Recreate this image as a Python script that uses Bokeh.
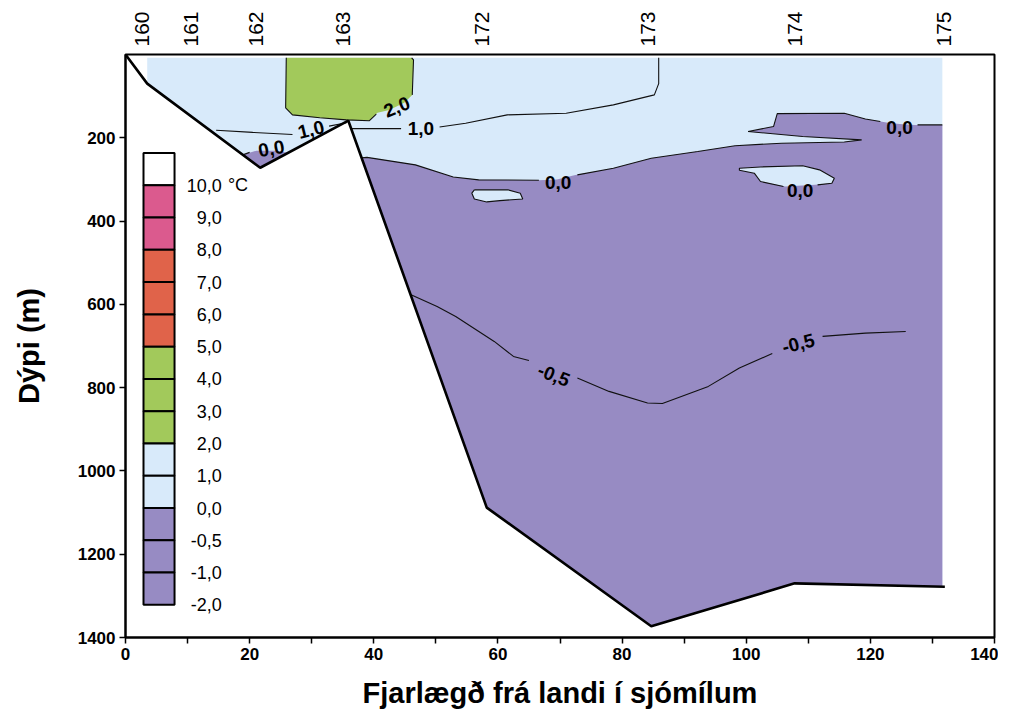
import math
from bokeh.plotting import figure
from bokeh.models import Range1d, FixedTicker, LinearAxis
from bokeh.core.properties import value
from bokeh.embed import file_html
from bokeh.resources import INLINE

nan = float("nan")

# ---------------- data (distance in sea miles, depth in m) ----------------
stations = ["160", "161", "162", "163", "172", "173", "174", "175"]
station_x = [2.7, 10.6, 21.1, 35.0, 57.4, 84.1, 107.8, 131.8]

bottom_x = [0.0, 3.5, 21.7, 35.9, 58.2, 84.7, 107.8, 132.0]
bottom_y = [0, 70, 272, 159, 1088, 1373, 1270, 1278]

# sampled section outline (0..1 deg water)
domain_x = [3.5, 131.6, 131.6, 107.8, 84.7, 58.2, 35.9, 21.7, 3.5]
domain_y = [8, 8, 1278, 1270, 1373, 1088, 159, 272, 70]

# > 2 deg core
green_x = [25.9, 25.8, 26.9, 31.3, 35.6, 39.3, 40.6, 42.5, 44.9, 46.2, 46.4, 46.1]
green_y = [8, 128, 145, 152, 157, 159, 140, 133, 116, 97, 13, 8]
green_line_x = [25.9, 25.8, 26.9, 31.3, 35.6, 39.3, 40.4, nan, 46.2, 46.4, 46.1]
green_line_y = [8, 128, 145, 152, 157, 159, 143, nan, 97, 13, 8]

# < 0 deg main water mass (upper boundary = 0,0 isotherm)
zero_x = [38.0, 38.9, 46.7, 52.8, 56.9, 66.5, 69.5, 72.3, 78.6, 84.7, 92.2, 98.2,
          105.7, 115.8, 118.6, 109.1, 100.3, 104.4, 105.0, 115.8, 119.2, 122.6,
          124.7, 127.2, 131.6]
zero_y = [248, 247, 265, 294, 301, 302, 300, 290, 273, 249, 233, 219,
          213, 210, 205, 197, 185, 173, 142, 141, 155, 163, 167, 169, 169]
zero_line_x = [38.0, 38.9, 46.7, 52.8, 56.9, 66.6, nan, 72.8, 78.6, 84.7, 92.2, 98.2,
               105.7, 115.8, 118.6, 109.1, 100.3, 104.4, 105.0, 115.8, 119.2, 121.6,
               nan, 127.6, 131.6]
zero_line_y = [248, 247, 265, 294, 301, 302, nan, 289, 273, 249, 233, 219,
               213, 210, 205, 197, 185, 173, 142, 141, 155, 161, nan, 169, 169]

# < 0 deg pocket at station 162
pocket_x = [18.9, 21.1, 24.3, 26.2, 21.7]
pocket_y = [241, 231, 231, 236, 272]
pocket_line_x = [18.9, 20.0]
pocket_line_y = [241, 235]

# > 0 deg lenses inside the cold water
hole1_x = [56.2, 61.6, 63.6, 64.0, 60.3, 58.2, 56.2, 55.8, 56.2]
hole1_y = [325, 325, 333, 347, 351, 354, 347, 333, 325]
hole2_x = [98.9, 102.3, 109.1, 111.8, 114.2, 113.8, 111.1, 106.3, 102.3, 101.3, 98.9, 98.9]
hole2_y = [273, 270, 267, 277, 297, 309, 313, 317, 305, 285, 278, 273]
hole2_line_x = [106.0, 102.3, 101.3, 98.9, 98.9, 102.3, 109.1, 111.8, 114.2, 113.8, 111.5]
hole2_line_y = [317, 305, 285, 278, 273, 270, 267, 277, 297, 309, 313]

# 1,0 isotherm
one_left_x = [14.6, 20.5, 26.9, nan, 32.8, 35.6]
one_left_y = [182, 187, 192, nan, 172, 164]
one_right_x = [36.4, 44.4, nan, 50.6, 54.8, 61.5, 71.0, 78.6, 85.2, 85.9, 85.9]
one_right_y = [178, 178, nan, 174, 165, 145, 141, 121, 97, 70, 8]

# -0,5 isotherm
m05_x = [46.0, 50.2, 53.2, 59.4, 62.5, 65.0, nan, 72.8, 77.9, 84.1, 86.5, 93.9,
         98.9, 104.2, nan, 112.3, 119.2, 125.7]
m05_y = [577, 605, 629, 689, 725, 735, nan, 777, 809, 837, 838, 797,
         753, 718, nan, 677, 669, 665]

# isotherm labels
lab_text = ["2,0", "1,0", "1,0", "0,0", "0,0", "0,0", "0,0", "-0,5", "-0,5"]
lab_x = [43.7, 29.9, 47.6, 23.5, 69.7, 108.7, 124.7, 69.0, 108.4]
lab_y = [126, 180, 178, 226, 307, 326, 176, 770, 694]
lab_angle_deg = [22, 14, 0, 10, 0, 0, 0, -22, 14]

# colour scale
legend_labels = ["10,0", "9,0", "8,0", "7,0", "6,0", "5,0", "4,0", "3,0", "2,0",
                 "1,0", "0,0", "-0,5", "-1,0", "-2,0"]

C_LB = "#D8EAFA"
C_PU = "#978BC3"
C_GR = "#A2C95B"
C_PK = "#DB5A8E"
C_RD = "#E0634A"
legend_colors = ["#FFFFFF", C_PK, C_PK, C_RD, C_RD, C_RD, C_GR, C_GR, C_GR,
                 C_LB, C_LB, C_PU, C_PU, C_PU]

FONT = "Liberation Sans"

# ---------------- figure ----------------
p = figure(width=998, height=712, output_backend="svg", toolbar_location=None,
           x_range=Range1d(0, 140), y_range=Range1d(1400, 0),
           min_border_left=125, min_border_right=4, min_border_top=54,
           min_border_bottom=75, background_fill_color="white",
           border_fill_color="white")
p.grid.visible = False
p.outline_line_color = "black"
p.outline_line_width = 2

# fills
p.patch(domain_x, domain_y, fill_color=C_LB, line_color=None)
p.patch(zero_x + [131.6, 107.8, 84.7, 58.2], zero_y + [1278, 1270, 1373, 1088],
        fill_color=C_PU, line_color=None)
p.patch(pocket_x, pocket_y, fill_color=C_PU, line_color=None)
p.patch(hole1_x, hole1_y, fill_color=C_LB, line_color=None)
p.patch(hole2_x, hole2_y, fill_color=C_LB, line_color=None)
p.patch(green_x, green_y, fill_color=C_GR, line_color=None)

# isotherms
lw = 1.1
for xs, ys in [(green_line_x, green_line_y), (zero_line_x, zero_line_y),
               (pocket_line_x, pocket_line_y), (hole1_x, hole1_y),
               (hole2_line_x, hole2_line_y), (one_left_x, one_left_y),
               (one_right_x, one_right_y), (m05_x, m05_y)]:
    p.line(xs, ys, line_color="#111111", line_width=lw)

# bottom profile
p.line(bottom_x, bottom_y, line_color="black", line_width=2.6)

# isotherm labels
p.text(x=lab_x, y=lab_y, text=lab_text,
       angle=[math.radians(a) for a in lab_angle_deg],
       text_font=value(FONT), text_font_style="bold", text_font_size="19px",
       text_align="center", text_baseline="middle", text_color="black")

# colour-scale legend (layout constants in data units)
LEG_L, LEG_R, LEG_TOP, LEG_STEP = 2.9, 7.9, 236.6, 77.5
n = len(legend_colors)
tops = [LEG_TOP + LEG_STEP * i for i in range(n)]
bots = [LEG_TOP + LEG_STEP * (i + 1) for i in range(n)]
p.quad(left=[LEG_L] * n, right=[LEG_R] * n, top=tops, bottom=bots,
       fill_color=legend_colors, line_color="black", line_width=2)
p.text(x=[15.5] * n, y=bots, text=legend_labels,
       text_font=value(FONT), text_font_size="18px", text_align="right",
       text_baseline="middle", text_color="black")
p.text(x=[16.5], y=[bots[0]], text=["°C"],
       text_font=value(FONT), text_font_size="18px", text_align="left",
       text_baseline="middle", text_color="black")

# axes
xa = p.xaxis[0]
xa.ticker = FixedTicker(ticks=list(range(0, 141, 20)), minor_ticks=list(range(10, 140, 20)))
xa.axis_label = "Fjarlægð frá landi í sjómílum"
ya = p.yaxis[0]
ya.ticker = FixedTicker(ticks=list(range(200, 1401, 200)), minor_ticks=[])
ya.axis_label = "Dýpi (m)"
for ax in (xa, ya):
    ax.axis_line_color = "black"
    ax.axis_line_width = 2
    ax.major_tick_in = 0
    ax.major_tick_out = 6
    ax.minor_tick_in = 0
    ax.minor_tick_out = 6
    ax.major_tick_line_width = 1.5
    ax.minor_tick_line_width = 1.5
    ax.major_label_text_font = FONT
    ax.major_label_text_font_style = "bold"
    ax.major_label_text_font_size = "17px"
    ax.major_label_text_color = "black"
    ax.axis_label_text_font = FONT
    ax.axis_label_text_font_style = "bold"
    ax.axis_label_text_font_size = "29px"
    ax.axis_label_text_color = "black"
xa.major_label_standoff = 4
xa.axis_label_standoff = 14
ya.major_label_standoff = 4
ya.axis_label_standoff = 30

top = LinearAxis(ticker=FixedTicker(ticks=station_x, minor_ticks=[]),
                 major_label_overrides={sx: s for sx, s in zip(station_x, stations)},
                 major_label_orientation=math.pi / 2,
                 axis_line_color=None, major_tick_line_color=None,
                 minor_tick_line_color=None, major_tick_in=0, major_tick_out=0,
                 minor_tick_in=0, minor_tick_out=0, major_label_standoff=8,
                 major_label_text_font=FONT, major_label_text_font_size="21px",
                 major_label_text_color="black")
p.add_layout(top, "above")

open("out.html", "w").write(file_html(p, INLINE))
